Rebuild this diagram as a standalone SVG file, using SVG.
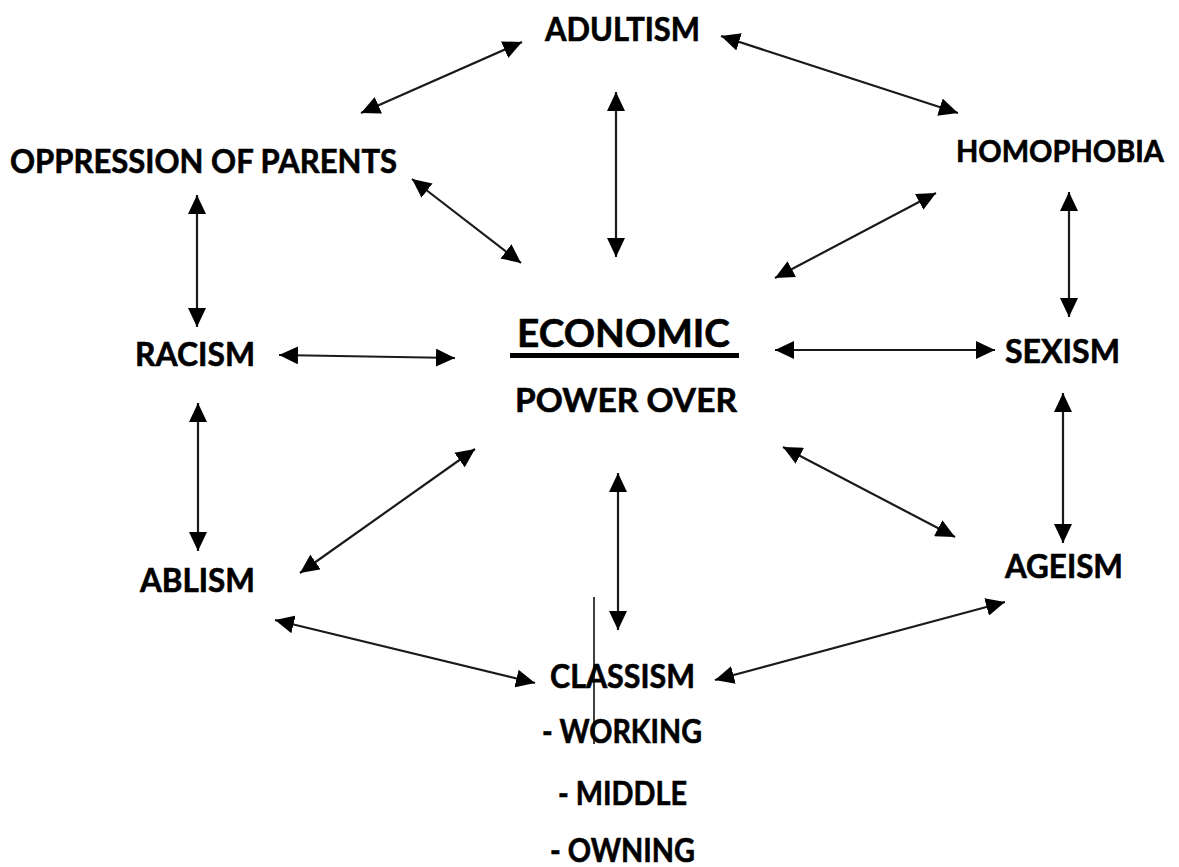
<svg xmlns="http://www.w3.org/2000/svg" width="1179" height="867" viewBox="0 0 1179 867">
<style>
text{font-family:Lato,"Open Sans","Liberation Sans",sans-serif;font-weight:bold;font-size:33px;fill:#000;stroke:#000;stroke-width:0.6}
.big{font-size:39px}
.c line{stroke:#1a1a1a;stroke-width:2.2;fill:none;marker-start:url(#ah);marker-end:url(#ah)}
</style>
<defs>
<marker id="ah" markerUnits="userSpaceOnUse" markerWidth="20" markerHeight="18" viewBox="0 0 20 18" refX="19" refY="9" orient="auto-start-reverse">
<path d="M0,0 L19,9 L0,18 Z" fill="#000"/>
</marker>
</defs>
<rect width="1179" height="867" fill="#fff"/>
<g id="adultism"><text x="545" y="41" textLength="155" lengthAdjust="spacingAndGlyphs">ADULTISM</text></g>
<g id="oppression"><text x="10" y="173" textLength="387" lengthAdjust="spacingAndGlyphs">OPPRESSION  OF PARENTS</text></g>
<g id="homophobia"><text x="956" y="162" style="font-size:30px" textLength="208" lengthAdjust="spacingAndGlyphs">HOMOPHOBIA</text></g>
<g id="racism"><text x="135" y="366" textLength="120" lengthAdjust="spacingAndGlyphs">RACISM</text></g>
<g id="economic">
<text class="big" x="517" y="347" textLength="213" lengthAdjust="spacingAndGlyphs">ECONOMIC</text>
<rect x="510" y="353" width="229" height="5" fill="#000"/>
<text x="515" y="412" textLength="222" lengthAdjust="spacingAndGlyphs">POWER OVER</text>
</g>
<g id="sexism"><text x="1005" y="363" textLength="115" lengthAdjust="spacingAndGlyphs">SEXISM</text></g>
<g id="ablism"><text x="140" y="592" textLength="115" lengthAdjust="spacingAndGlyphs">ABLISM</text></g>
<g id="ageism"><text x="1005" y="578" textLength="118" lengthAdjust="spacingAndGlyphs">AGEISM</text></g>
<g id="classism">
<text x="550" y="688" textLength="145" lengthAdjust="spacingAndGlyphs">CLASSISM</text>
<text x="542" y="743" textLength="160" lengthAdjust="spacingAndGlyphs">- WORKING</text>
<text x="558" y="805" textLength="129" lengthAdjust="spacingAndGlyphs">- MIDDLE</text>
<text x="550" y="862" textLength="145" lengthAdjust="spacingAndGlyphs">- OWNING</text>
<line x1="594" y1="597" x2="594" y2="744" stroke="#000" stroke-width="1.5"/>
</g>
<g id="connectors" class="c">
<line x1="361" y1="113" x2="522" y2="42"/>
<line x1="721" y1="36" x2="958" y2="113"/>
<line x1="616" y1="92" x2="616" y2="257"/>
<line x1="412" y1="179" x2="521" y2="263"/>
<line x1="936" y1="193" x2="775" y2="278"/>
<line x1="197" y1="195" x2="197" y2="327"/>
<line x1="198" y1="403" x2="198" y2="551"/>
<line x1="1069" y1="192" x2="1069" y2="317"/>
<line x1="1063" y1="393" x2="1063" y2="543"/>
<line x1="279" y1="355" x2="455" y2="358"/>
<line x1="775" y1="350" x2="995" y2="350"/>
<line x1="475" y1="449" x2="300" y2="573"/>
<line x1="783" y1="447" x2="955" y2="537"/>
<line x1="618" y1="473" x2="618" y2="630"/>
<line x1="275" y1="620" x2="535" y2="683"/>
<line x1="715" y1="680" x2="1005" y2="602"/>
</g>
</svg>
